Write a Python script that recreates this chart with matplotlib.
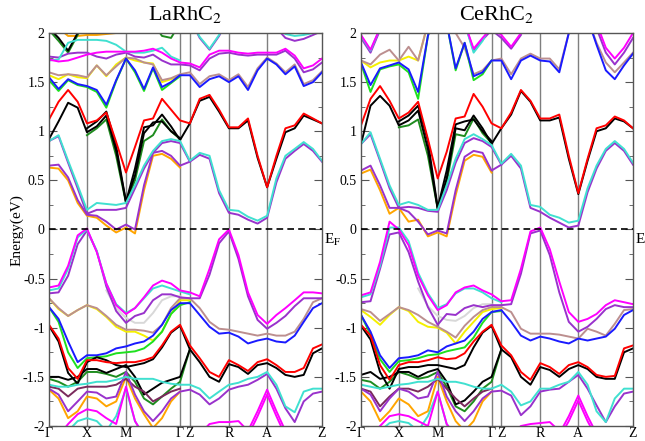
import numpy as np
import matplotlib
matplotlib.use("Agg")
import matplotlib.pyplot as plt
from matplotlib.ticker import FuncFormatter, MultipleLocator
from matplotlib.transforms import blended_transform_factory

plt.rcParams['font.family'] = ['Liberation Serif', 'DejaVu Serif']
plt.rcParams['mathtext.fontset'] = 'stix'
plt.rcParams['axes.unicode_minus'] = False

N = np.nan

# k-path positions (fraction of path length) and high-symmetry labels
K = [0.0, 0.035, 0.07, 0.105, 0.139, 0.175, 0.21, 0.246, 0.282, 0.315, 0.348, 0.381,
     0.414, 0.447, 0.48, 0.516, 0.552, 0.588, 0.623, 0.659, 0.694, 0.729, 0.764, 0.799,
     0.833, 0.866, 0.9, 0.933, 0.967, 1.0]
KPOINTS = [0.0, 0.139, 0.282, 0.48, 0.516, 0.659, 0.799, 1.0]
KLABELS = ['Γ', 'X', 'M', 'Γ', 'Z', 'R', 'A', 'Z']
TITLES = ['LaRhC$_2$', 'CeRhC$_2$']


def span(first, vals):
    out = [N] * len(K)
    out[first:first + len(vals)] = vals
    return out


# ---------------- LaRhC2 : conduction side ----------------
la_red_c = [1.12, 1.3, 1.42, 1.3, 1.08, 1.11, 1.19, 0.89, 0.58, 0.84, 1.11, 1.13, 1.33, 1.22, 1.11,
            1.08, 1.33, 1.37, 1.22, 1.04, 1.04, 1.13, 0.75, 0.43, 0.75, 1.03, 1.06, 1.18, 1.13, 1.08]
la_black_c1 = [0.92, 1.1, 1.29, 1.24, 0.99, 1.05, 1.16, 0.8, 0.28, 0.62, 1.04, 1.06, 1.17, 1.05, 0.91,
               1.08, 1.31, 1.35, 1.2, 1.03, 1.03, 1.11, 0.73, 0.43, 0.72, 0.99, 1.03, 1.16, 1.12, 1.08]
la_black_c2 = span(4, [1.03, 1.1, 1.2, 0.85, 0.28, 0.55, 0.98, 1.09, 1.1, 1.0, 0.93])
la_dgreen_c = span(4, [0.96, 1.03, 1.12, 0.75, 0.27, 0.5, 0.9, 0.96, 1.12, 1.0, 0.92])
la_cyan_c = [0.9, 0.96, 0.7, 0.45, 0.2, 0.27, 0.26, 0.25, 0.27, 0.45, 0.65, 0.8, 0.9, 0.92, 0.9,
             0.7, 0.78, 0.75, 0.4, 0.2, 0.19, 0.13, 0.09, 0.14, 0.52, 0.75, 0.82, 0.89, 0.82, 0.7]
la_violet_c1 = [0.9, 0.95, 0.68, 0.42, 0.16, 0.2, 0.2, 0.2, 0.22, 0.42, 0.62, 0.78, 0.88, 0.9, 0.88,
                0.69, 0.76, 0.72, 0.37, 0.17, 0.15, 0.1, 0.06, 0.12, 0.48, 0.72, 0.8, 0.87, 0.8, 0.69]
la_violet_c2 = span(0, [0.65, 0.66, 0.53, 0.3, 0.15, 0.14, 0.08, 0.0, 0.05, 0.0, 0.45, 0.78, 0.8, 0.75, 0.65, 0.69])
la_orange_c = span(0, [0.63, 0.62, 0.5, 0.27, 0.14, 0.12, 0.04, -0.03, 0.02, -0.04, 0.4, 0.75, 0.77, 0.72, 0.63])
la_blue_c = [1.55, 1.43, 1.53, 1.48, 1.46, 1.42, 1.27, 1.52, 1.74, 1.62, 1.43, 1.65, 1.45, 1.5, 1.57,
             1.57, 1.45, 1.53, 1.56, 1.5, 1.56, 1.42, 1.62, 1.74, 1.68, 1.58, 1.66, 1.46, 1.5, 1.6]
la_lime_c = span(0, [1.52, 1.41, 1.52, 1.47, 1.45, 1.4, 1.24, 1.51, 1.74, 1.6, 1.41, 1.64, 1.42, 1.49, 1.56])
la_tan_c = [1.6, 1.57, 1.58, 1.57, 1.55, 1.67, 1.57, 1.66, 1.75, 1.74, 1.7, 1.68, 1.52, 1.54, 1.58,
            1.6, 1.48, 1.56, 1.58, 1.52, 1.58, 1.45, 1.64, 1.75, 1.69, 1.6, 1.68, 1.48, 1.52, 1.61]
la_yellow_c = span(0, [1.57, 1.53, 1.58, 1.55, 1.54, 1.67, 1.56, 1.68, 1.75, 1.72, 1.7, 1.69, 1.5, 1.53, 1.57])
la_magenta_c = [1.73, 1.71, 1.72, 1.75, 1.78, 1.8, 1.81, 1.81, 1.81, 1.81, 1.82, 1.84, 1.8, 1.74, 1.7,
                1.69, 1.65, 1.78, 1.82, 1.82, 1.8, 1.79, 1.8, 1.8, 1.8, 1.84, 1.77, 1.64, 1.67, 1.74]
la_violet_c3 = [1.76, 1.75, 1.79, 1.8, 1.8, 1.76, 1.74, 1.78, 1.8, 1.76, 1.75, 1.78, 1.72, 1.68, 1.68,
                1.67, 1.62, 1.74, 1.79, 1.8, 1.78, 1.77, 1.78, 1.78, 1.78, 1.82, 1.74, 1.6, 1.63, 1.7]
la_cyan_c2 = span(0, [1.72, 1.73, 1.9, 1.93, 1.93, 1.93, 1.92, 1.88, 1.81, 1.8, 1.8, 1.82, 1.85, 1.76, 1.72])
la_cyan_c3 = span(15, [2.15, 1.96, 1.84, 1.98, 2.15])
la_cyan_c4 = span(24, [2.05, 1.99, 1.97, 1.98, 2.0, 2.05])
la_violet_c4 = span(15, [2.15, 1.95, 1.83, 1.97, 2.15])
la_violet_c5 = span(24, [2.05, 1.95, 1.92, 1.94, 1.98, 2.02])
la_black_c3 = span(0, [2.05, 1.95, 1.82, 2.0, 2.15])
la_dgreen_c2 = span(0, [2.03, 1.92, 1.8, 1.98, 2.15])
la_dgreen_c3 = span(11, [2.1, 1.97, 1.95, 2.1])
la_orange_c2 = span(1, [2.05, 1.97, 1.97, 1.98, 1.98, 1.99, 2.0, 2.05])

# ---------------- LaRhC2 : valence side ----------------
la_mag_v = [-0.59, -0.57, -0.37, -0.06, 0.01, -0.23, -0.55, -0.77, -0.86, -0.8, -0.69, -0.57, -0.52, -0.55, -0.62,
            -0.64, -0.68, -0.4, -0.1, 0.0, -0.26, -0.64, -0.87, -0.96, -0.87, -0.8, -0.72, -0.64, -0.64, -0.65]
la_cyan_v = span(0, [-0.62, -0.6, -0.4, -0.08, 0.0, -0.22, -0.55, -0.76, -0.85, -0.8, -0.7, -0.6, -0.57, -0.6, -0.63, -0.66])
la_violet_v = [-0.65, -0.64, -0.47, -0.15, -0.01, -0.22, -0.58, -0.83, -0.95, -0.88, -0.85, -0.72, -0.66, -0.66, -0.69,
               -0.7, -0.7, -0.46, -0.14, -0.02, -0.3, -0.68, -0.92, -1.01, -0.95, -0.88, -0.78, -0.7, -0.7, -0.7]
la_tan_v = [-0.7, -0.8, -0.88, -0.82, -0.77, -0.8, -0.88, -0.97, -1.02, -1.02, -1.03, -1.05, -0.97, -0.8, -0.7,
            -0.7, -0.8, -0.94, -1.01, -1.02, -1.04, -1.06, -1.08, -1.06, -1.08, -1.08, -1.04, -0.91, -0.74, -0.7]
la_yellow_v = span(0, [-0.7, -0.81, -0.88, -0.82, -0.77, -0.81, -0.89, -0.99, -1.04, -1.04, -1.08, -1.13, -1.04, -0.86, -0.72, -0.72])
la_blue_v = [-0.79, -0.91, -1.14, -1.35, -1.28, -1.28, -1.26, -1.21, -1.19, -1.16, -1.14, -1.08, -0.97, -0.82, -0.75,
             -0.75, -0.87, -0.99, -1.06, -1.05, -1.09, -1.16, -1.13, -1.11, -1.14, -1.15, -1.08, -0.94, -0.8, -0.75]
la_lime_v = span(0, [-0.79, -0.94, -1.25, -1.41, -1.31, -1.3, -1.29, -1.26, -1.25, -1.24, -1.21, -1.14, -1.04, -0.86, -0.77, -0.74])
la_red_v = [-0.97, -1.11, -1.41, -1.52, -1.33, -1.33, -1.35, -1.36, -1.35, -1.35, -1.33, -1.3, -1.18, -1.04, -0.97,
            -1.18, -1.31, -1.45, -1.5, -1.33, -1.38, -1.44, -1.35, -1.32, -1.38, -1.45, -1.45, -1.41, -1.21, -1.17]
la_black_v1 = [-0.98, -1.14, -1.46, -1.57, -1.35, -1.3, -1.33, -1.38, -1.4, -1.38, -1.36, -1.32, -1.2, -1.05, -0.98,
               -1.22, -1.35, -1.5, -1.55, -1.37, -1.4, -1.47, -1.38, -1.36, -1.41, -1.48, -1.5, -1.48, -1.26, -1.21]
la_black_v2 = span(0, [-1.5, -1.5, -1.53, -1.5, -1.42, -1.42, -1.46, -1.42, -1.38, -1.5, -1.68, -1.62, -1.56, -1.53, -1.5, -1.22])
la_dgreen_v = span(0, [-1.52, -1.55, -1.6, -1.55, -1.45, -1.45, -1.47, -1.5, -1.45, -1.55, -1.72, -1.78, -1.7, -1.62, -1.55, -1.22])
la_cyan_v2 = [-1.58, -1.6, -1.6, -1.58, -1.57, -1.55, -1.55, -1.53, -1.5, -1.52, -1.52, -1.52, -1.55, -1.57, -1.58,
              -1.58, -1.62, -1.72, -1.65, -1.58, -1.56, -1.52, -1.5, -1.45, -1.58, -1.8, -1.86, -1.65, -1.62, -1.62]
la_violet_v2 = [-1.62, -1.68, -1.85, -1.75, -1.65, -1.66, -1.72, -1.7, -1.45, -1.68, -1.85, -1.95, -1.85, -1.72, -1.65,
                -1.63, -1.68, -1.78, -1.72, -1.63, -1.6, -1.58, -1.53, -1.47, -1.62, -1.82, -1.96, -1.75, -1.67, -1.65]
la_orange_v = span(0, [-1.63, -1.72, -1.92, -1.85, -1.7, -1.72, -1.8, -1.75, -1.5, -1.72, -1.88, -2.02, -1.92, -1.75, -1.65])
la_plum_v = span(0, [-1.6, -1.62, -1.7, -1.62, -1.6, -1.6, -1.6, -1.58, -1.52, -1.6, -1.65, -1.75, -1.7, -1.65, -1.62])
la_mag_v2 = span(1, [-2.1, -1.98, -1.88, -1.83, -1.85, -1.92, -1.98, -1.6, -1.95, -2.1])
la_cyan_v3 = span(2, [-2.05, -1.95, -1.92, -1.95, -2.05, -1.9, -1.62, -1.95, -2.1])
la_mag_v3 = span(21, [-2.05, -1.85, -1.63, -1.85, -2.05])
la_mag_v4 = span(21, [-2.1, -1.9, -1.68, -1.9, -2.1])
la_mag_v5 = span(16, [-2.08, -1.98, -1.96, -1.96, -1.95, -2.05])
la_gray_v = span(6, [-0.62, -0.8, -0.9, -0.95, -0.95, -0.85, -0.72, -0.68, -0.68])

# ---------------- CeRhC2 : conduction side ----------------
ce_red_c = [1.06, 1.33, 1.46, 1.31, 1.13, 1.19, 1.3, 0.92, 0.52, 0.79, 1.13, 1.15, 1.38, 1.25, 1.08,
            1.03, 1.19, 1.42, 1.31, 1.13, 1.13, 1.17, 0.75, 0.37, 0.72, 1.03, 1.06, 1.15, 1.11, 1.03]
ce_black_c1 = [0.87, 1.26, 1.36, 1.26, 1.06, 1.11, 1.21, 0.82, 0.21, 0.52, 1.03, 1.01, 1.16, 1.03, 0.87,
               1.03, 1.17, 1.41, 1.3, 1.11, 1.11, 1.14, 0.72, 0.36, 0.7, 1.0, 1.03, 1.13, 1.1, 1.03]
ce_black_c2 = span(4, [1.1, 1.16, 1.26, 0.9, 0.22, 0.6, 1.07, 1.1, 1.12, 1.0, 0.9])
ce_dgreen_c = span(4, [1.04, 1.06, 1.12, 0.75, 0.21, 0.48, 0.97, 0.95, 1.13, 0.98, 0.88])
ce_cyan_c = [0.87, 0.99, 0.72, 0.45, 0.25, 0.28, 0.25, 0.2, 0.2, 0.45, 0.72, 0.92, 0.97, 0.92, 0.86,
             0.67, 0.77, 0.65, 0.25, 0.23, 0.15, 0.12, 0.07, 0.09, 0.42, 0.65, 0.82, 0.9, 0.82, 0.68]
ce_violet_c1 = [0.87, 0.97, 0.7, 0.42, 0.22, 0.23, 0.22, 0.19, 0.18, 0.4, 0.68, 0.88, 0.93, 0.9, 0.84,
                0.66, 0.75, 0.62, 0.22, 0.18, 0.12, 0.07, 0.02, 0.04, 0.38, 0.62, 0.8, 0.88, 0.8, 0.66]
ce_violet_c2 = span(0, [0.6, 0.65, 0.45, 0.22, 0.22, 0.18, 0.08, -0.05, -0.01, -0.04, 0.4, 0.74, 0.8, 0.78, 0.6, 0.66])
ce_orange_c = span(0, [0.57, 0.61, 0.4, 0.16, 0.22, 0.08, 0.1, -0.07, -0.03, -0.07, 0.35, 0.7, 0.76, 0.74, 0.58])
ce_blue_c = [1.7, 1.47, 1.64, 1.67, 1.7, 1.63, 1.4, 1.97, 2.3, 2.1, 1.64, 1.9, 1.56, 1.6, 1.72,
             1.72, 1.53, 1.72, 1.77, 1.72, 1.71, 1.6, 2.0, 2.3, 2.15, 1.88, 1.62, 1.53, 1.67, 1.79]
ce_lime_c = span(0, [1.69, 1.4, 1.63, 1.66, 1.68, 1.6, 1.33, 1.97, 2.3, 2.1, 1.62, 1.9, 1.52, 1.58, 1.72])
ce_tan_c = [1.72, 1.68, 1.78, 1.83, 1.72, 1.86, 1.72, 2.1, 2.3, 2.2, 2.0, 1.85, 1.58, 1.62, 1.72,
            1.74, 1.58, 1.74, 1.79, 1.74, 1.74, 1.63, 2.0, 2.3, 2.15, 1.9, 1.7, 1.6, 1.7, 1.8]
ce_yellow_c = span(0, [1.72, 1.65, 1.7, 1.72, 1.72, 1.76, 1.72, 2.1])
ce_mag_c1 = span(0, [1.98, 1.83, 2.05])
ce_mag_c2 = span(11, [2.1, 1.84, 1.95, 2.05, 1.98, 1.86, 2.0])
ce_mag_c3 = span(25, [2.1, 1.85, 1.74, 1.85, 2.0])
ce_violet_c3 = span(0, [1.95, 1.8, 2.03])
ce_violet_c4 = span(11, [2.1, 1.82, 1.93, 2.03, 1.95, 1.84, 1.98])
ce_violet_c5 = span(25, [2.05, 1.8, 1.68, 1.8, 1.95])
ce_cyan_c2 = span(0, [1.97, 1.82, 2.05])
ce_cyan_c3 = span(11, [2.1, 1.8, 1.92, 2.1])

# ---------------- CeRhC2 : valence side ----------------
ce_mag_v = [-0.67, -0.64, -0.33, 0.08, 0.0, -0.16, -0.47, -0.67, -0.82, -0.77, -0.64, -0.59, -0.57, -0.62, -0.66,
            -0.73, -0.72, -0.4, -0.02, 0.02, -0.2, -0.53, -0.84, -0.94, -0.91, -0.86, -0.77, -0.72, -0.74, -0.76]
ce_cyan_v = span(0, [-0.69, -0.66, -0.37, 0.02, 0.02, -0.12, -0.44, -0.65, -0.8, -0.76, -0.65, -0.6, -0.6, -0.64, -0.7, -0.74])
ce_violet_v = [-0.74, -0.73, -0.4, -0.05, -0.03, -0.23, -0.53, -0.79, -0.97, -0.86, -0.87, -0.8, -0.77, -0.79, -0.77,
               -0.77, -0.76, -0.45, -0.04, -0.01, -0.26, -0.64, -0.94, -1.04, -0.99, -0.91, -0.81, -0.77, -0.79, -0.79]
ce_tan_v = [-0.81, -0.84, -0.93, -0.86, -0.79, -0.82, -0.87, -0.94, -0.99, -1.04, -1.1, -0.98, -0.89, -0.82, -0.79,
            -0.79, -0.84, -1.01, -1.06, -1.06, -1.06, -1.07, -1.09, -1.11, -1.01, -1.04, -1.08, -0.96, -0.82, -0.81]
ce_yellow_v = span(0, [-0.82, -0.89, -0.97, -0.87, -0.79, -0.83, -0.94, -0.99, -1.0, -1.05, -1.16, -1.04, -0.94, -0.84, -0.81, -0.8])
ce_blue_v = [-0.87, -1.04, -1.28, -1.41, -1.31, -1.3, -1.28, -1.23, -1.25, -1.19, -1.16, -1.13, -1.04, -0.91, -0.84,
             -0.82, -0.94, -1.08, -1.13, -1.09, -1.11, -1.14, -1.16, -1.11, -1.13, -1.11, -1.09, -1.01, -0.87, -0.82]
ce_lime_v = span(0, [-0.87, -1.07, -1.32, -1.45, -1.34, -1.33, -1.31, -1.28, -1.27, -1.24, -1.22, -1.2, -1.1, -0.95, -0.84, -0.83])
ce_red_v = [-0.97, -1.08, -1.38, -1.53, -1.38, -1.35, -1.35, -1.33, -1.3, -1.32, -1.31, -1.26, -1.14, -1.04, -0.97,
            -1.18, -1.28, -1.45, -1.53, -1.36, -1.4, -1.47, -1.38, -1.35, -1.4, -1.48, -1.5, -1.49, -1.21, -1.18]
ce_black_v1 = [-0.98, -1.12, -1.45, -1.62, -1.42, -1.4, -1.4, -1.38, -1.38, -1.4, -1.42, -1.38, -1.2, -1.05, -0.98,
               -1.22, -1.3, -1.5, -1.58, -1.4, -1.43, -1.5, -1.42, -1.38, -1.42, -1.5, -1.52, -1.52, -1.25, -1.21]
ce_black_v2 = span(0, [-1.48, -1.45, -1.52, -1.5, -1.45, -1.45, -1.5, -1.45, -1.42, -1.55, -1.78, -1.74, -1.65, -1.55, -1.5, -1.22])
ce_dgreen_v = span(0, [-1.53, -1.55, -1.62, -1.55, -1.45, -1.48, -1.52, -1.5, -1.45, -1.6, -1.8, -1.85, -1.75, -1.62, -1.55, -1.22])
ce_cyan_v2 = [-1.58, -1.6, -1.62, -1.6, -1.58, -1.57, -1.55, -1.55, -1.52, -1.55, -1.55, -1.57, -1.6, -1.62, -1.62,
              -1.58, -1.65, -1.79, -1.75, -1.62, -1.62, -1.58, -1.55, -1.45, -1.58, -1.85, -1.96, -1.72, -1.62, -1.62]
ce_violet_v2 = [-1.62, -1.68, -1.85, -1.72, -1.62, -1.65, -1.72, -1.7, -1.45, -1.7, -1.85, -1.95, -1.85, -1.72, -1.65,
                -1.64, -1.69, -1.89, -1.8, -1.65, -1.63, -1.62, -1.55, -1.48, -1.62, -1.79, -1.96, -1.8, -1.67, -1.65]
ce_orange_v = span(0, [-1.65, -1.75, -1.95, -1.85, -1.72, -1.78, -1.9, -1.85, -1.5, -1.75, -1.95, -2.05, -1.95, -1.75, -1.65])
ce_plum_v = span(0, [-1.62, -1.65, -1.8, -1.7, -1.62, -1.62, -1.65, -1.6, -1.52, -1.62, -1.72, -1.8, -1.72, -1.65, -1.62])
ce_mag_v2 = span(1, [-2.1, -2.0, -1.9, -1.88, -1.9, -1.95, -2.0, -1.65, -1.98, -2.1])
ce_cyan_v3 = span(2, [-2.05, -1.97, -1.95, -1.97, -2.05, -1.9, -1.65, -1.98, -2.1])
ce_mag_v3 = span(21, [-2.08, -1.9, -1.69, -1.9, -2.08])
ce_mag_v4 = span(21, [-2.12, -1.95, -1.74, -1.95, -2.12])
ce_mag_v5 = span(16, [-2.08, -2.0, -1.98, -1.97, -1.96, -2.05])
ce_gray_v = span(6, [-0.6, -0.78, -0.88, -0.92, -0.93, -0.88, -0.8, -0.76, -0.76])

C = dict(red='#ff0000', black='#000000', dgreen='#1e8c1e', lime='#1ee01e', blue='#1a1aff',
         cyan='#40e0d0', violet='#9932cc', orange='#ffa500', yellow='#f5f000', tan='#bc8f8f',
         magenta='#ff00ff', plum='#7a2a5c', gray='#d8d8d8')

la_bands = [
    (la_gray_v, 'gray'), (la_orange_c2, 'orange'), (la_orange_c, 'orange'), (la_orange_v, 'orange'),
    (la_yellow_c, 'yellow'), (la_yellow_v, 'yellow'), (la_tan_c, 'tan'), (la_tan_v, 'tan'),
    (la_lime_c, 'lime'), (la_lime_v, 'lime'), (la_blue_c, 'blue'), (la_blue_v, 'blue'),
    (la_dgreen_c, 'dgreen'), (la_dgreen_c2, 'dgreen'), (la_dgreen_c3, 'dgreen'), (la_dgreen_v, 'dgreen'),
    (la_black_c1, 'black'), (la_black_c2, 'black'), (la_black_c3, 'black'),
    (la_black_v1, 'black'), (la_black_v2, 'black'),
    (la_red_c, 'red'), (la_red_v, 'red'), (la_plum_v, 'plum'),
    (la_violet_c1, 'violet'), (la_violet_c2, 'violet'), (la_violet_c3, 'violet'), (la_violet_c4, 'violet'),
    (la_violet_c5, 'violet'), (la_violet_v, 'violet'), (la_violet_v2, 'violet'),
    (la_cyan_c, 'cyan'), (la_cyan_c2, 'cyan'), (la_cyan_c3, 'cyan'), (la_cyan_c4, 'cyan'),
    (la_cyan_v, 'cyan'), (la_cyan_v2, 'cyan'), (la_cyan_v3, 'cyan'),
    (la_magenta_c, 'magenta'), (la_mag_v, 'magenta'), (la_mag_v2, 'magenta'),
    (la_mag_v3, 'magenta'), (la_mag_v4, 'magenta'), (la_mag_v5, 'magenta'),
]

ce_bands = [
    (ce_gray_v, 'gray'), (ce_orange_c, 'orange'), (ce_orange_v, 'orange'),
    (ce_yellow_c, 'yellow'), (ce_yellow_v, 'yellow'), (ce_tan_c, 'tan'), (ce_tan_v, 'tan'),
    (ce_lime_c, 'lime'), (ce_lime_v, 'lime'), (ce_blue_c, 'blue'), (ce_blue_v, 'blue'),
    (ce_dgreen_c, 'dgreen'), (ce_dgreen_v, 'dgreen'),
    (ce_black_c1, 'black'), (ce_black_c2, 'black'), (ce_black_v1, 'black'), (ce_black_v2, 'black'),
    (ce_red_c, 'red'), (ce_red_v, 'red'), (ce_plum_v, 'plum'),
    (ce_violet_c1, 'violet'), (ce_violet_c2, 'violet'), (ce_violet_c3, 'violet'), (ce_violet_c4, 'violet'),
    (ce_violet_c5, 'violet'), (ce_violet_v, 'violet'), (ce_violet_v2, 'violet'),
    (ce_cyan_c, 'cyan'), (ce_cyan_c2, 'cyan'), (ce_cyan_c3, 'cyan'),
    (ce_cyan_v, 'cyan'), (ce_cyan_v2, 'cyan'), (ce_cyan_v3, 'cyan'),
    (ce_mag_c1, 'magenta'), (ce_mag_c2, 'magenta'), (ce_mag_c3, 'magenta'),
    (ce_mag_v, 'magenta'), (ce_mag_v2, 'magenta'), (ce_mag_v3, 'magenta'),
    (ce_mag_v4, 'magenta'), (ce_mag_v5, 'magenta'),
]


def draw_panel(ax, bands, title):
    for xk in KPOINTS[1:-1]:
        ax.axvline(xk, color='#7f7f7f', lw=1.0, zorder=1)
    for vals, col in bands:
        ax.plot(K, vals, color=C[col], lw=1.4, solid_joinstyle='round', zorder=2)
    ax.axhline(0, color='black', lw=1.2, ls=(0, (4, 2.5)), zorder=3)
    ax.set_xlim(0, 1)
    ax.set_ylim(-2, 2)
    ax.set_xticks(KPOINTS)
    ax.set_xticklabels(KLABELS, fontsize=10)
    ax.tick_params(axis='x', length=0, pad=0.5)
    ax.yaxis.set_major_locator(MultipleLocator(0.5))
    ax.yaxis.set_minor_locator(MultipleLocator(0.25))
    ax.yaxis.set_major_formatter(FuncFormatter(lambda v, p: '%g' % v))
    ax.tick_params(axis='y', which='both', direction='in', left=True, right=True,
                   labelsize=10, pad=3, color='#555555')
    ax.tick_params(axis='y', which='major', length=6)
    ax.tick_params(axis='y', which='minor', length=3)
    for sp in ax.spines.values():
        sp.set_color('#555555')
        sp.set_linewidth(1.0)
    ax.text(0.5, 1.02, title, transform=ax.transAxes, ha='center', va='bottom', fontsize=16)
    tr = blended_transform_factory(ax.transAxes, ax.transData)
    ax.text(1.006, -0.02, 'E$_\\mathrm{F}$', transform=tr, ha='left', va='top', fontsize=11,
            clip_on=False)


fig = plt.figure(figsize=(6.45, 4.41), dpi=100)
ax1 = fig.add_axes([49 / 645, 1 - 426 / 441, 273 / 645, 393 / 441])
ax2 = fig.add_axes([361 / 645, 1 - 426 / 441, 272 / 645, 393 / 441])
draw_panel(ax1, la_bands, TITLES[0])
draw_panel(ax2, ce_bands, TITLES[1])
fig.text(17 / 645, 1 - 230 / 441, 'Energy(eV)', rotation=90, ha='center', va='center', fontsize=11)

fig.savefig('out.png', dpi=100)
